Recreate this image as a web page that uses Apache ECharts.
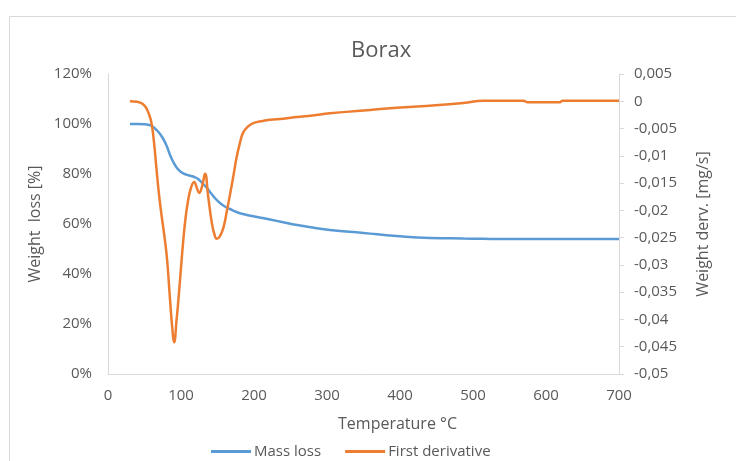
<!DOCTYPE html>
<html>
<head>
<meta charset="utf-8">
<script src="https://cdn.jsdelivr.net/npm/echarts@6/dist/echarts.min.js"></script>
<style>
  html, body { margin: 0; padding: 0; background: #fff; }
  #chart { width: 736px; height: 461px; }
</style>
</head>
<body>
<div id="chart"></div>
<script>
// Thermogravimetric run of borax: residual mass and its first derivative
const massTemp = [30, 40, 50, 55, 60, 65, 70, 75, 80, 85, 90, 95, 100, 105, 110, 115, 118, 122, 125, 129, 133, 137, 142, 149, 155, 160, 167, 176, 185, 199, 212, 222, 240, 259, 280, 304, 350, 395, 441, 487, 514, 540, 569, 600, 640, 700];
const massPct  = [100, 100, 99.9, 99.7, 99.2, 98, 96.5, 94.4, 91.5, 87.6, 84.5, 82.2, 80.8, 80, 79.5, 79.1, 78.8, 78.3, 77.6, 76.4, 75.2, 73.9, 72, 69.6, 68, 67, 66, 64.8, 64, 63.1, 62.4, 61.8, 60.7, 59.6, 58.6, 57.6, 56.4, 55.2, 54.4, 54.2, 54.1, 54, 54, 54, 54, 54];

const derivTemp = [30, 40, 45, 50, 53, 57, 60, 63, 66, 69, 72, 75, 78, 81, 85, 88, 90.5, 94, 97, 100, 103, 106, 109, 113, 118, 122, 125, 129, 133, 137, 142, 146, 149, 153, 158, 163, 167, 172, 176, 181, 185, 192, 199, 212, 222, 240, 259, 280, 304, 350, 395, 441, 487, 514, 540, 569, 575, 600, 618, 623, 660, 700];
const derivVal  = [0, -0.0001, -0.0003, -0.0008, -0.0014, -0.0027, -0.0043, -0.0075, -0.0118, -0.0160, -0.0195, -0.0225, -0.0255, -0.0291, -0.0364, -0.0415, -0.0442, -0.0400, -0.0355, -0.0305, -0.0257, -0.0217, -0.0188, -0.0162, -0.0148, -0.0160, -0.0168, -0.0155, -0.0133, -0.0172, -0.0221, -0.0245, -0.0252, -0.0248, -0.0232, -0.0200, -0.0172, -0.0135, -0.0104, -0.0075, -0.0058, -0.0046, -0.0040, -0.0036, -0.0034, -0.0032, -0.0029, -0.0026, -0.0022, -0.0017, -0.0012, -0.0008, -0.0003, 0.0001, 0.0001, 0.0001, -0.0002, -0.0002, -0.0002, 0.0001, 0.0001, 0.0001];

const xTicks = { min: 0, max: 700, step: 100 };
const leftTicks = { min: 0, max: 120, step: 20 };
const rightTicks = { min: -0.05, max: 0.005, step: 0.005 };

const textGray = '#595959';
const lineGray = '#d9d9d9';
const font = 'Open Sans, Liberation Sans, sans-serif';

const massData = massTemp.map((t, i) => [t, massPct[i]]);
const derivData = derivTemp.map((t, i) => [t, derivVal[i]]);

const chart = echarts.init(document.getElementById('chart'), null, { renderer: 'canvas' });
chart.setOption({
  animation: false,
  backgroundColor: '#fff',
  graphic: [{
    type: 'rect',
    shape: { x: 9.5, y: 16.5, width: 760, height: 480 },
    style: { fill: 'none', stroke: lineGray, lineWidth: 1 },
    silent: true,
    z: -1
  }],
  title: {
    text: 'Borax',
    left: 346,
    top: 35,
    textStyle: { fontFamily: font, fontSize: 22, fontWeight: 'normal', color: textGray }
  },
  legend: {
    left: 206,
    top: 439,
    itemWidth: 40,
    itemHeight: 3,
    itemGap: 24,
    icon: 'rect',
    textStyle: { fontFamily: font, fontSize: 15, color: textGray, padding: [0, 0, 0, -2] },
    data: ['Mass loss', 'First derivative']
  },
  grid: { left: 108, right: 117, top: 74, bottom: 87 },
  xAxis: {
    type: 'value',
    min: xTicks.min,
    max: xTicks.max,
    interval: xTicks.step,
    name: 'Temperature °C',
    nameLocation: 'middle',
    nameGap: 42,
    nameTextStyle: { fontFamily: font, fontSize: 16, color: textGray, padding: [0, 0, 0, 68] },
    axisLine: { show: true, onZero: false, lineStyle: { color: lineGray, width: 1 } },
    axisTick: { show: false },
    splitLine: { show: false },
    axisLabel: { fontFamily: font, fontSize: 15, color: textGray, margin: 14 }
  },
  yAxis: [{
    type: 'value',
    position: 'left',
    min: leftTicks.min,
    max: leftTicks.max,
    interval: leftTicks.step,
    name: 'Weight  loss [%]',
    nameLocation: 'middle',
    nameRotate: 90,
    nameGap: 64,
    nameTextStyle: { fontFamily: font, fontSize: 16, color: textGray },
    axisLine: { show: true, lineStyle: { color: lineGray, width: 1 } },
    axisTick: { show: false },
    splitLine: { show: false },
    axisLabel: { fontFamily: font, fontSize: 15, color: textGray, margin: 16, formatter: '{value}%' }
  }, {
    type: 'value',
    position: 'right',
    min: rightTicks.min,
    max: rightTicks.max,
    interval: rightTicks.step,
    name: 'Weight derv. [mg/s]',
    nameLocation: 'middle',
    nameRotate: 90,
    nameGap: 76,
    nameTextStyle: { fontFamily: font, fontSize: 16, color: textGray },
    axisLine: { show: true, lineStyle: { color: lineGray, width: 1 } },
    axisTick: { show: true, length: 5, lineStyle: { color: lineGray } },
    splitLine: { show: false },
    axisLabel: {
      fontFamily: font, fontSize: 15, color: textGray, margin: 15,
      formatter: v => String(Number(v.toFixed(3))).replace('.', ',')
    }
  }],
  series: [{
    name: 'Mass loss',
    type: 'line',
    yAxisIndex: 0,
    data: massData,
    showSymbol: false,
    smooth: 0.5,
    lineStyle: { color: '#5B9BD5', width: 2.5 },
    itemStyle: { color: '#5B9BD5' }
  }, {
    name: 'First derivative',
    type: 'line',
    yAxisIndex: 1,
    data: derivData,
    showSymbol: false,
    smooth: 0.5,
    lineStyle: { color: '#ED7D31', width: 2.5 },
    itemStyle: { color: '#ED7D31' }
  }]
});
</script>
</body>
</html>
